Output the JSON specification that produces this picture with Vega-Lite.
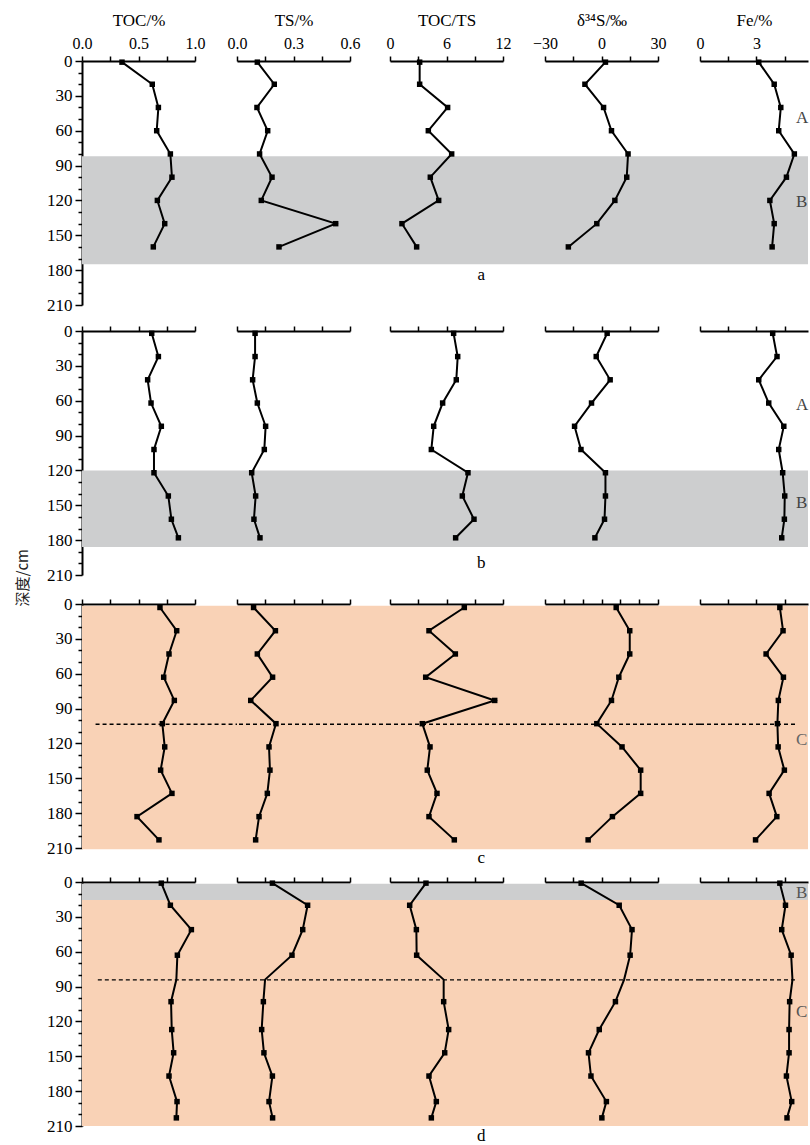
{
"$schema":"https://vega.github.io/schema/vega-lite/v6.json",
"padding":{"left":15,"top":11,"right":0,"bottom":0},
"config":{
 "view":{"stroke":null},
 "axis":{"domainColor":"#000","domainWidth":2,"tickColor":"#000","tickWidth":1.5,"tickSize":5,"labelColor":"#000","labelFont":"Liberation Serif","labelFontSize":16,"labelPadding":5,"labelFlush":false,"labelOverlap":false,"titleFont":"Liberation Serif","titleFontSize":17,"titleFontWeight":"normal","titleColor":"#000","titlePadding":6,"grid":false,"zindex":1},
 "axisY":{"labelFontSize":17,"labelPadding":3,"tickSize":6},
 "text":{"font":"Liberation Serif","fontSize":17,"color":"#000"}
},
"title":{"text":"深度/cm","orient":"left","anchor":"middle","font":"Noto Sans CJK SC","fontSize":15,"fontWeight":"normal","color":"#222","offset":16},
"datasets":{
 "A":[
  {"depth":1,"TOC":0.354,"TS":0.108,"TOCTS":3.15,"d34S":2.1,"Fe":3.12},
  {"depth":20,"TOC":0.622,"TS":0.198,"TOCTS":3.15,"d34S":-8.8,"Fe":3.94},
  {"depth":40,"TOC":0.676,"TS":0.106,"TOCTS":6.12,"d34S":1.1,"Fe":4.29},
  {"depth":60,"TOC":0.661,"TS":0.163,"TOCTS":4.07,"d34S":5.3,"Fe":4.18},
  {"depth":80,"TOC":0.782,"TS":0.120,"TOCTS":6.55,"d34S":14.1,"Fe":5.01},
  {"depth":100,"TOC":0.796,"TS":0.186,"TOCTS":4.28,"d34S":13.4,"Fe":4.59},
  {"depth":120,"TOC":0.667,"TS":0.129,"TOCTS":5.17,"d34S":7.1,"Fe":3.71},
  {"depth":140,"TOC":0.732,"TS":0.524,"TOCTS":1.27,"d34S":-2.5,"Fe":3.94},
  {"depth":160,"TOC":0.631,"TS":0.223,"TOCTS":2.83,"d34S":-17.6,"Fe":3.83}
 ],
 "B":[
  {"depth":2,"TOC":0.617,"TS":0.096,"TOCTS":6.76,"d34S":3.0,"Fe":3.86},
  {"depth":22,"TOC":0.676,"TS":0.096,"TOCTS":7.19,"d34S":-2.8,"Fe":4.09},
  {"depth":42,"TOC":0.581,"TS":0.083,"TOCTS":7.04,"d34S":4.6,"Fe":3.12},
  {"depth":62,"TOC":0.611,"TS":0.108,"TOCTS":5.59,"d34S":-5.3,"Fe":3.65},
  {"depth":82,"TOC":0.702,"TS":0.152,"TOCTS":4.64,"d34S":-14.3,"Fe":4.45},
  {"depth":102,"TOC":0.637,"TS":0.145,"TOCTS":4.39,"d34S":-10.9,"Fe":4.18},
  {"depth":122,"TOC":0.637,"TS":0.078,"TOCTS":8.28,"d34S":2.1,"Fe":4.39},
  {"depth":142,"TOC":0.764,"TS":0.099,"TOCTS":7.68,"d34S":2.1,"Fe":4.50},
  {"depth":162,"TOC":0.791,"TS":0.090,"TOCTS":8.92,"d34S":1.6,"Fe":4.48},
  {"depth":178,"TOC":0.853,"TS":0.122,"TOCTS":6.97,"d34S":-3.5,"Fe":4.34}
 ],
 "C":[
  {"depth":3,"TOC":0.690,"TS":0.088,"TOCTS":7.89,"d34S":7.8,"Fe":4.24},
  {"depth":23,"TOC":0.838,"TS":0.204,"TOCTS":4.14,"d34S":15.0,"Fe":4.41},
  {"depth":43,"TOC":0.770,"TS":0.108,"TOCTS":6.94,"d34S":15.0,"Fe":3.51},
  {"depth":63,"TOC":0.723,"TS":0.189,"TOCTS":3.79,"d34S":9.2,"Fe":4.43},
  {"depth":83,"TOC":0.817,"TS":0.073,"TOCTS":11.12,"d34S":5.3,"Fe":4.16},
  {"depth":103,"TOC":0.711,"TS":0.207,"TOCTS":3.43,"d34S":-2.5,"Fe":4.11},
  {"depth":123,"TOC":0.732,"TS":0.170,"TOCTS":4.25,"d34S":10.9,"Fe":4.15},
  {"depth":143,"TOC":0.696,"TS":0.175,"TOCTS":3.96,"d34S":20.8,"Fe":4.48},
  {"depth":163,"TOC":0.796,"TS":0.161,"TOCTS":4.99,"d34S":20.8,"Fe":3.67},
  {"depth":183,"TOC":0.487,"TS":0.117,"TOCTS":4.14,"d34S":5.8,"Fe":4.08},
  {"depth":203,"TOC":0.681,"TS":0.099,"TOCTS":6.83,"d34S":-7.1,"Fe":2.95}
 ],
 "D":[
  {"depth":1,"TOC":0.702,"TS":0.188,"TOCTS":3.82,"d34S":-10.8,"Fe":4.24},
  {"depth":20,"TOC":0.782,"TS":0.375,"TOCTS":2.09,"d34S":9.4,"Fe":4.54},
  {"depth":41,"TOC":0.968,"TS":0.349,"TOCTS":2.80,"d34S":16.2,"Fe":4.34},
  {"depth":63,"TOC":0.844,"TS":0.292,"TOCTS":2.83,"d34S":15.2,"Fe":4.84},
  {"depth":84,"TOC":0.835,"TS":0.149,"TOCTS":5.70,"d34S":12.0,"Fe":4.91,"m":0},
  {"depth":103,"TOC":0.788,"TS":0.140,"TOCTS":5.70,"d34S":7.4,"Fe":4.76},
  {"depth":127,"TOC":0.794,"TS":0.131,"TOCTS":6.23,"d34S":-1.2,"Fe":4.73},
  {"depth":147,"TOC":0.811,"TS":0.143,"TOCTS":5.81,"d34S":-6.9,"Fe":4.73},
  {"depth":167,"TOC":0.770,"TS":0.188,"TOCTS":4.14,"d34S":-5.6,"Fe":4.59},
  {"depth":189,"TOC":0.841,"TS":0.170,"TOCTS":4.92,"d34S":2.6,"Fe":4.87},
  {"depth":203,"TOC":0.835,"TS":0.189,"TOCTS":4.39,"d34S":0.2,"Fe":4.62}
 ],
 "bA":[{"top":82,"bottom":175,"zone":"B"}],
 "bB":[{"top":120,"bottom":186,"zone":"B"}],
 "bC":[{"top":1.5,"bottom":211,"zone":"C"}],
 "bD":[{"top":1.4,"bottom":15.5,"zone":"B"},{"top":15.5,"bottom":210,"zone":"C"}],
 "zA":[{"zone":"A","depth":49},{"zone":"B","depth":121}],
 "zB":[{"zone":"A","depth":64},{"zone":"B","depth":148}],
 "zC":[{"zone":"C","depth":117}],
 "zD":[{"zone":"B","depth":9.5},{"zone":"C","depth":112}]
},
"spacing":9,
"vconcat":[
 {"hconcat":[
  {"width":155,"height":244,"layer":[
   {"data":{"name":"bA"},"mark":"rect","encoding":{"y":{"field":"top","type":"quantitative","scale":{"domain":[0,210],"reverse":true,"nice":false,"zero":false},"axis":{"title":null,"values":[0,10,20,30,40,50,60,70,80,90,100,110,120,130,140,150,160,170,180,190,200,210],"labelExpr":"datum.value % 30 === 0 ? datum.label : ''","tickSize":{"condition":{"test":"datum.value % 30 === 0","value":7},"value":4}}},"y2":{"field":"bottom"},"color":{"field":"zone","type":"nominal","scale":{"domain":["B","C"],"range":["#cdcecf","#f9d2b6"]},"legend":null}}},
   {"data":{"name":"A"},"encoding":{"x":{"field":"TOC","type":"quantitative","scale":{"domain":[0,1],"range":[0,113],"nice":false,"zero":false},"axis":{"orient":"top","title":"TOC/%","values":[0,0.25,0.5,0.75,1],"format":".1f","labelExpr":"datum.value % 0.5 === 0 ? datum.label : ''"}},"y":{"field":"depth","type":"quantitative","scale":{"domain":[0,210],"reverse":true,"nice":false,"zero":false},"axis":{"title":null,"values":[0,10,20,30,40,50,60,70,80,90,100,110,120,130,140,150,160,170,180,190,200,210],"labelExpr":"datum.value % 30 === 0 ? datum.label : ''","tickSize":{"condition":{"test":"datum.value % 30 === 0","value":7},"value":4}}}},"layer":[
    {"mark":{"type":"line","color":"black","strokeWidth":2},"encoding":{"order":{"field":"depth","type":"quantitative"}}},
    {"transform":[{"filter":"datum.m !== 0"}],"mark":{"type":"square","color":"black","opacity":1,"size":30}}
   ]}
  ]},
  {"width":153,"height":244,"layer":[
   {"data":{"name":"bA"},"mark":"rect","encoding":{"y":{"field":"top","type":"quantitative","scale":{"domain":[0,210],"reverse":true,"nice":false,"zero":false},"axis":null},"y2":{"field":"bottom"},"color":{"field":"zone","type":"nominal","scale":{"domain":["B","C"],"range":["#cdcecf","#f9d2b6"]},"legend":null}}},
   {"data":{"name":"A"},"encoding":{"x":{"field":"TS","type":"quantitative","scale":{"domain":[0,0.6],"range":[0,113],"nice":false,"zero":false},"axis":{"orient":"top","title":"TS/%","values":[0,0.15,0.3,0.45,0.6],"format":".1f","labelExpr":"round(datum.value*100) % 30 === 0 ? datum.label : ''"}},"y":{"field":"depth","type":"quantitative","scale":{"domain":[0,210],"reverse":true,"nice":false,"zero":false},"axis":null}},"layer":[
    {"mark":{"type":"line","color":"black","strokeWidth":2},"encoding":{"order":{"field":"depth","type":"quantitative"}}},
    {"transform":[{"filter":"datum.m !== 0"}],"mark":{"type":"square","color":"black","opacity":1,"size":30}}
   ]}
  ]},
  {"width":155,"height":244,"layer":[
   {"data":{"name":"bA"},"mark":"rect","encoding":{"y":{"field":"top","type":"quantitative","scale":{"domain":[0,210],"reverse":true,"nice":false,"zero":false},"axis":null},"y2":{"field":"bottom"},"color":{"field":"zone","type":"nominal","scale":{"domain":["B","C"],"range":["#cdcecf","#f9d2b6"]},"legend":null}}},
   {"data":{"name":"A"},"encoding":{"x":{"field":"TOCTS","type":"quantitative","scale":{"domain":[0,12],"range":[0,113],"nice":false,"zero":false},"axis":{"orient":"top","title":"TOC/TS","values":[0,3,6,9,12],"format":"d","labelExpr":"datum.value % 6 === 0 ? datum.label : ''"}},"y":{"field":"depth","type":"quantitative","scale":{"domain":[0,210],"reverse":true,"nice":false,"zero":false},"axis":null}},"layer":[
    {"mark":{"type":"line","color":"black","strokeWidth":2},"encoding":{"order":{"field":"depth","type":"quantitative"}}},
    {"transform":[{"filter":"datum.m !== 0"}],"mark":{"type":"square","color":"black","opacity":1,"size":30}}
   ]},
   {"data":{"values":[{}]},"mark":{"type":"text","fontSize":17},"encoding":{"x":{"datum":9.7,"type":"quantitative","axis":{"orient":"top","title":"TOC/TS","values":[0,3,6,9,12],"format":"d","labelExpr":"datum.value % 6 === 0 ? datum.label : ''"}},"y":{"datum":184,"type":"quantitative","axis":null},"text":{"value":"a"}}}
  ]},
  {"width":155,"height":244,"layer":[
   {"data":{"name":"bA"},"mark":"rect","encoding":{"y":{"field":"top","type":"quantitative","scale":{"domain":[0,210],"reverse":true,"nice":false,"zero":false},"axis":null},"y2":{"field":"bottom"},"color":{"field":"zone","type":"nominal","scale":{"domain":["B","C"],"range":["#cdcecf","#f9d2b6"]},"legend":null}}},
   {"data":{"name":"A"},"encoding":{"x":{"field":"d34S","type":"quantitative","scale":{"domain":[-30,30],"range":[0,113],"nice":false,"zero":false},"axis":{"orient":"top","title":"δ³⁴S/‰","values":[-30,-15,0,15,30],"format":"d","labelExpr":"datum.value % 30 === 0 ? datum.label : ''"}},"y":{"field":"depth","type":"quantitative","scale":{"domain":[0,210],"reverse":true,"nice":false,"zero":false},"axis":null}},"layer":[
    {"mark":{"type":"line","color":"black","strokeWidth":2},"encoding":{"order":{"field":"depth","type":"quantitative"}}},
    {"transform":[{"filter":"datum.m !== 0"}],"mark":{"type":"square","color":"black","opacity":1,"size":30}}
   ]}
  ]},
  {"width":108,"height":244,"layer":[
   {"data":{"name":"bA"},"mark":"rect","encoding":{"y":{"field":"top","type":"quantitative","scale":{"domain":[0,210],"reverse":true,"nice":false,"zero":false},"axis":null},"y2":{"field":"bottom"},"color":{"field":"zone","type":"nominal","scale":{"domain":["B","C"],"range":["#cdcecf","#f9d2b6"]},"legend":null}}},
   {"data":{"name":"A"},"encoding":{"x":{"field":"Fe","type":"quantitative","scale":{"domain":[0,5.735],"range":[0,108],"nice":false,"zero":false},"axis":{"orient":"top","title":"Fe/%","values":[0,1.5,3,4.5],"format":"d","labelExpr":"datum.value % 3 === 0 ? datum.label : ''"}},"y":{"field":"depth","type":"quantitative","scale":{"domain":[0,210],"reverse":true,"nice":false,"zero":false},"axis":null}},"layer":[
    {"mark":{"type":"line","color":"black","strokeWidth":2},"encoding":{"order":{"field":"depth","type":"quantitative"}}},
    {"transform":[{"filter":"datum.m !== 0"}],"mark":{"type":"square","color":"black","opacity":1,"size":30}}
   ]},
   {"data":{"name":"zA"},"mark":{"type":"text","align":"left","baseline":"middle","fontSize":17,"color":"#444"},"encoding":{"x":{"datum":5.1,"type":"quantitative","axis":{"orient":"top","title":"Fe/%","values":[0,1.5,3,4.5],"format":"d","labelExpr":"datum.value % 3 === 0 ? datum.label : ''"}},"y":{"field":"depth","type":"quantitative","scale":{"domain":[0,210],"reverse":true,"nice":false,"zero":false},"axis":null},"text":{"field":"zone"}}}
  ]}
 ],"spacing":0,"bounds":"flush"},
 {"spacing":12,"vconcat":[
 {"hconcat":[
  {"width":155,"height":244,"layer":[
   {"data":{"name":"bB"},"mark":"rect","encoding":{"y":{"field":"top","type":"quantitative","scale":{"domain":[0,210],"reverse":true,"nice":false,"zero":false},"axis":{"title":null,"values":[0,10,20,30,40,50,60,70,80,90,100,110,120,130,140,150,160,170,180,190,200,210],"labelExpr":"datum.value % 30 === 0 ? datum.label : ''","tickSize":{"condition":{"test":"datum.value % 30 === 0","value":7},"value":4}}},"y2":{"field":"bottom"},"color":{"field":"zone","type":"nominal","scale":{"domain":["B","C"],"range":["#cdcecf","#f9d2b6"]},"legend":null}}},
   {"data":{"name":"B"},"encoding":{"x":{"field":"TOC","type":"quantitative","scale":{"domain":[0,1],"range":[0,113],"nice":false,"zero":false},"axis":{"orient":"top","title":null,"labels":false,"values":[0,0.25,0.5,0.75,1]}},"y":{"field":"depth","type":"quantitative","scale":{"domain":[0,210],"reverse":true,"nice":false,"zero":false},"axis":{"title":null,"values":[0,10,20,30,40,50,60,70,80,90,100,110,120,130,140,150,160,170,180,190,200,210],"labelExpr":"datum.value % 30 === 0 ? datum.label : ''","tickSize":{"condition":{"test":"datum.value % 30 === 0","value":7},"value":4}}}},"layer":[
    {"mark":{"type":"line","color":"black","strokeWidth":2},"encoding":{"order":{"field":"depth","type":"quantitative"}}},
    {"transform":[{"filter":"datum.m !== 0"}],"mark":{"type":"square","color":"black","opacity":1,"size":30}}
   ]}
  ]},
  {"width":153,"height":244,"layer":[
   {"data":{"name":"bB"},"mark":"rect","encoding":{"y":{"field":"top","type":"quantitative","scale":{"domain":[0,210],"reverse":true,"nice":false,"zero":false},"axis":null},"y2":{"field":"bottom"},"color":{"field":"zone","type":"nominal","scale":{"domain":["B","C"],"range":["#cdcecf","#f9d2b6"]},"legend":null}}},
   {"data":{"name":"B"},"encoding":{"x":{"field":"TS","type":"quantitative","scale":{"domain":[0,0.6],"range":[0,113],"nice":false,"zero":false},"axis":{"orient":"top","title":null,"labels":false,"values":[0,0.15,0.3,0.45,0.6]}},"y":{"field":"depth","type":"quantitative","scale":{"domain":[0,210],"reverse":true,"nice":false,"zero":false},"axis":null}},"layer":[
    {"mark":{"type":"line","color":"black","strokeWidth":2},"encoding":{"order":{"field":"depth","type":"quantitative"}}},
    {"transform":[{"filter":"datum.m !== 0"}],"mark":{"type":"square","color":"black","opacity":1,"size":30}}
   ]}
  ]},
  {"width":155,"height":244,"layer":[
   {"data":{"name":"bB"},"mark":"rect","encoding":{"y":{"field":"top","type":"quantitative","scale":{"domain":[0,210],"reverse":true,"nice":false,"zero":false},"axis":null},"y2":{"field":"bottom"},"color":{"field":"zone","type":"nominal","scale":{"domain":["B","C"],"range":["#cdcecf","#f9d2b6"]},"legend":null}}},
   {"data":{"name":"B"},"encoding":{"x":{"field":"TOCTS","type":"quantitative","scale":{"domain":[0,12],"range":[0,113],"nice":false,"zero":false},"axis":{"orient":"top","title":null,"labels":false,"values":[0,3,6,9,12]}},"y":{"field":"depth","type":"quantitative","scale":{"domain":[0,210],"reverse":true,"nice":false,"zero":false},"axis":null}},"layer":[
    {"mark":{"type":"line","color":"black","strokeWidth":2},"encoding":{"order":{"field":"depth","type":"quantitative"}}},
    {"transform":[{"filter":"datum.m !== 0"}],"mark":{"type":"square","color":"black","opacity":1,"size":30}}
   ]},
   {"data":{"values":[{}]},"mark":{"type":"text","fontSize":17},"encoding":{"x":{"datum":9.7,"type":"quantitative","axis":{"orient":"top","title":null,"labels":false,"values":[0,3,6,9,12]}},"y":{"datum":200,"type":"quantitative","axis":null},"text":{"value":"b"}}}
  ]},
  {"width":155,"height":244,"layer":[
   {"data":{"name":"bB"},"mark":"rect","encoding":{"y":{"field":"top","type":"quantitative","scale":{"domain":[0,210],"reverse":true,"nice":false,"zero":false},"axis":null},"y2":{"field":"bottom"},"color":{"field":"zone","type":"nominal","scale":{"domain":["B","C"],"range":["#cdcecf","#f9d2b6"]},"legend":null}}},
   {"data":{"name":"B"},"encoding":{"x":{"field":"d34S","type":"quantitative","scale":{"domain":[-30,30],"range":[0,113],"nice":false,"zero":false},"axis":{"orient":"top","title":null,"labels":false,"values":[-30,-15,0,15,30]}},"y":{"field":"depth","type":"quantitative","scale":{"domain":[0,210],"reverse":true,"nice":false,"zero":false},"axis":null}},"layer":[
    {"mark":{"type":"line","color":"black","strokeWidth":2},"encoding":{"order":{"field":"depth","type":"quantitative"}}},
    {"transform":[{"filter":"datum.m !== 0"}],"mark":{"type":"square","color":"black","opacity":1,"size":30}}
   ]}
  ]},
  {"width":108,"height":244,"layer":[
   {"data":{"name":"bB"},"mark":"rect","encoding":{"y":{"field":"top","type":"quantitative","scale":{"domain":[0,210],"reverse":true,"nice":false,"zero":false},"axis":null},"y2":{"field":"bottom"},"color":{"field":"zone","type":"nominal","scale":{"domain":["B","C"],"range":["#cdcecf","#f9d2b6"]},"legend":null}}},
   {"data":{"name":"B"},"encoding":{"x":{"field":"Fe","type":"quantitative","scale":{"domain":[0,5.735],"range":[0,108],"nice":false,"zero":false},"axis":{"orient":"top","title":null,"labels":false,"values":[0,1.5,3,4.5]}},"y":{"field":"depth","type":"quantitative","scale":{"domain":[0,210],"reverse":true,"nice":false,"zero":false},"axis":null}},"layer":[
    {"mark":{"type":"line","color":"black","strokeWidth":2},"encoding":{"order":{"field":"depth","type":"quantitative"}}},
    {"transform":[{"filter":"datum.m !== 0"}],"mark":{"type":"square","color":"black","opacity":1,"size":30}}
   ]},
   {"data":{"name":"zB"},"mark":{"type":"text","align":"left","baseline":"middle","fontSize":17,"color":"#444"},"encoding":{"x":{"datum":5.1,"type":"quantitative","axis":{"orient":"top","title":null,"labels":false,"values":[0,1.5,3,4.5]}},"y":{"field":"depth","type":"quantitative","scale":{"domain":[0,210],"reverse":true,"nice":false,"zero":false},"axis":null},"text":{"field":"zone"}}}
  ]}
 ],"spacing":0,"bounds":"flush"},
 {"spacing":6,"vconcat":[
 {"hconcat":[
  {"width":155,"height":244,"layer":[
   {"data":{"name":"bC"},"mark":"rect","encoding":{"y":{"field":"top","type":"quantitative","scale":{"domain":[0,210],"reverse":true,"nice":false,"zero":false},"axis":{"title":null,"values":[0,10,20,30,40,50,60,70,80,90,100,110,120,130,140,150,160,170,180,190,200,210],"labelExpr":"datum.value % 30 === 0 ? datum.label : ''","tickSize":{"condition":{"test":"datum.value % 30 === 0","value":7},"value":4}}},"y2":{"field":"bottom"},"color":{"field":"zone","type":"nominal","scale":{"domain":["B","C"],"range":["#cdcecf","#f9d2b6"]},"legend":null}}},
   {"data":{"values":[{}]},"mark":{"type":"rule","color":"black","strokeWidth":1.3,"strokeDash":[4,3]},"encoding":{"y":{"datum":103.5,"type":"quantitative","axis":{"title":null,"values":[0,10,20,30,40,50,60,70,80,90,100,110,120,130,140,150,160,170,180,190,200,210],"labelExpr":"datum.value % 30 === 0 ? datum.label : ''","tickSize":{"condition":{"test":"datum.value % 30 === 0","value":7},"value":4}}},"x":{"datum":0.12,"type":"quantitative","axis":{"orient":"top","title":null,"labels":false,"values":[0,0.25,0.5,0.75,1]}},"x2":{"datum":1.372}}},
   {"data":{"name":"C"},"encoding":{"x":{"field":"TOC","type":"quantitative","scale":{"domain":[0,1],"range":[0,113],"nice":false,"zero":false},"axis":{"orient":"top","title":null,"labels":false,"values":[0,0.25,0.5,0.75,1]}},"y":{"field":"depth","type":"quantitative","scale":{"domain":[0,210],"reverse":true,"nice":false,"zero":false},"axis":{"title":null,"values":[0,10,20,30,40,50,60,70,80,90,100,110,120,130,140,150,160,170,180,190,200,210],"labelExpr":"datum.value % 30 === 0 ? datum.label : ''","tickSize":{"condition":{"test":"datum.value % 30 === 0","value":7},"value":4}}}},"layer":[
    {"mark":{"type":"line","color":"black","strokeWidth":2},"encoding":{"order":{"field":"depth","type":"quantitative"}}},
    {"transform":[{"filter":"datum.m !== 0"}],"mark":{"type":"square","color":"black","opacity":1,"size":30}}
   ]}
  ]},
  {"width":153,"height":244,"layer":[
   {"data":{"name":"bC"},"mark":"rect","encoding":{"y":{"field":"top","type":"quantitative","scale":{"domain":[0,210],"reverse":true,"nice":false,"zero":false},"axis":null},"y2":{"field":"bottom"},"color":{"field":"zone","type":"nominal","scale":{"domain":["B","C"],"range":["#cdcecf","#f9d2b6"]},"legend":null}}},
   {"data":{"values":[{}]},"mark":{"type":"rule","color":"black","strokeWidth":1.3,"strokeDash":[4,3]},"encoding":{"y":{"datum":103.5,"type":"quantitative","axis":null}}},
   {"data":{"name":"C"},"encoding":{"x":{"field":"TS","type":"quantitative","scale":{"domain":[0,0.6],"range":[0,113],"nice":false,"zero":false},"axis":{"orient":"top","title":null,"labels":false,"values":[0,0.15,0.3,0.45,0.6]}},"y":{"field":"depth","type":"quantitative","scale":{"domain":[0,210],"reverse":true,"nice":false,"zero":false},"axis":null}},"layer":[
    {"mark":{"type":"line","color":"black","strokeWidth":2},"encoding":{"order":{"field":"depth","type":"quantitative"}}},
    {"transform":[{"filter":"datum.m !== 0"}],"mark":{"type":"square","color":"black","opacity":1,"size":30}}
   ]}
  ]},
  {"width":155,"height":244,"layer":[
   {"data":{"name":"bC"},"mark":"rect","encoding":{"y":{"field":"top","type":"quantitative","scale":{"domain":[0,210],"reverse":true,"nice":false,"zero":false},"axis":null},"y2":{"field":"bottom"},"color":{"field":"zone","type":"nominal","scale":{"domain":["B","C"],"range":["#cdcecf","#f9d2b6"]},"legend":null}}},
   {"data":{"values":[{}]},"mark":{"type":"rule","color":"black","strokeWidth":1.3,"strokeDash":[4,3]},"encoding":{"y":{"datum":103.5,"type":"quantitative","axis":null}}},
   {"data":{"name":"C"},"encoding":{"x":{"field":"TOCTS","type":"quantitative","scale":{"domain":[0,12],"range":[0,113],"nice":false,"zero":false},"axis":{"orient":"top","title":null,"labels":false,"values":[0,3,6,9,12]}},"y":{"field":"depth","type":"quantitative","scale":{"domain":[0,210],"reverse":true,"nice":false,"zero":false},"axis":null}},"layer":[
    {"mark":{"type":"line","color":"black","strokeWidth":2},"encoding":{"order":{"field":"depth","type":"quantitative"}}},
    {"transform":[{"filter":"datum.m !== 0"}],"mark":{"type":"square","color":"black","opacity":1,"size":30}}
   ]},
   {"data":{"values":[{}]},"mark":{"type":"text","fontSize":17},"encoding":{"x":{"datum":9.7,"type":"quantitative","axis":{"orient":"top","title":null,"labels":false,"values":[0,3,6,9,12]}},"y":{"datum":219,"type":"quantitative","axis":null},"text":{"value":"c"}}}
  ]},
  {"width":155,"height":244,"layer":[
   {"data":{"name":"bC"},"mark":"rect","encoding":{"y":{"field":"top","type":"quantitative","scale":{"domain":[0,210],"reverse":true,"nice":false,"zero":false},"axis":null},"y2":{"field":"bottom"},"color":{"field":"zone","type":"nominal","scale":{"domain":["B","C"],"range":["#cdcecf","#f9d2b6"]},"legend":null}}},
   {"data":{"values":[{}]},"mark":{"type":"rule","color":"black","strokeWidth":1.3,"strokeDash":[4,3]},"encoding":{"y":{"datum":103.5,"type":"quantitative","axis":null}}},
   {"data":{"name":"C"},"encoding":{"x":{"field":"d34S","type":"quantitative","scale":{"domain":[-30,30],"range":[0,113],"nice":false,"zero":false},"axis":{"orient":"top","title":null,"labels":false,"values":[-30,-20,-10,0,10,20,30]}},"y":{"field":"depth","type":"quantitative","scale":{"domain":[0,210],"reverse":true,"nice":false,"zero":false},"axis":null}},"layer":[
    {"mark":{"type":"line","color":"black","strokeWidth":2},"encoding":{"order":{"field":"depth","type":"quantitative"}}},
    {"transform":[{"filter":"datum.m !== 0"}],"mark":{"type":"square","color":"black","opacity":1,"size":30}}
   ]}
  ]},
  {"width":108,"height":244,"layer":[
   {"data":{"name":"bC"},"mark":"rect","encoding":{"y":{"field":"top","type":"quantitative","scale":{"domain":[0,210],"reverse":true,"nice":false,"zero":false},"axis":null},"y2":{"field":"bottom"},"color":{"field":"zone","type":"nominal","scale":{"domain":["B","C"],"range":["#cdcecf","#f9d2b6"]},"legend":null}}},
   {"data":{"values":[{}]},"mark":{"type":"rule","color":"black","strokeWidth":1.3,"strokeDash":[4,3]},"encoding":{"y":{"datum":103.5,"type":"quantitative","axis":null},"x":{"datum":0,"type":"quantitative","axis":{"orient":"top","title":null,"labels":false,"values":[0,1.5,3,4.5]}},"x2":{"datum":5.1}}},
   {"data":{"name":"C"},"encoding":{"x":{"field":"Fe","type":"quantitative","scale":{"domain":[0,5.735],"range":[0,108],"nice":false,"zero":false},"axis":{"orient":"top","title":null,"labels":false,"values":[0,1.5,3,4.5]}},"y":{"field":"depth","type":"quantitative","scale":{"domain":[0,210],"reverse":true,"nice":false,"zero":false},"axis":null}},"layer":[
    {"mark":{"type":"line","color":"black","strokeWidth":2},"encoding":{"order":{"field":"depth","type":"quantitative"}}},
    {"transform":[{"filter":"datum.m !== 0"}],"mark":{"type":"square","color":"black","opacity":1,"size":30}}
   ]},
   {"data":{"name":"zC"},"mark":{"type":"text","align":"left","baseline":"middle","fontSize":17,"color":"#666"},"encoding":{"x":{"datum":5.1,"type":"quantitative","axis":{"orient":"top","title":null,"labels":false,"values":[0,1.5,3,4.5]}},"y":{"field":"depth","type":"quantitative","scale":{"domain":[0,210],"reverse":true,"nice":false,"zero":false},"axis":null},"text":{"field":"zone"}}}
  ]}
 ],"spacing":0,"bounds":"flush"},
 {"hconcat":[
  {"width":155,"height":244,"layer":[
   {"data":{"name":"bD"},"mark":"rect","encoding":{"y":{"field":"top","type":"quantitative","scale":{"domain":[0,210],"reverse":true,"nice":false,"zero":false},"axis":{"title":null,"values":[0,10,20,30,40,50,60,70,80,90,100,110,120,130,140,150,160,170,180,190,200,210],"labelExpr":"datum.value % 30 === 0 ? datum.label : ''","tickSize":{"condition":{"test":"datum.value % 30 === 0","value":7},"value":4}}},"y2":{"field":"bottom"},"color":{"field":"zone","type":"nominal","scale":{"domain":["B","C"],"range":["#cdcecf","#f9d2b6"]},"legend":null}}},
   {"data":{"values":[{}]},"mark":{"type":"rule","color":"black","strokeWidth":1.3,"strokeDash":[4,3]},"encoding":{"y":{"datum":84.3,"type":"quantitative","axis":{"title":null,"values":[0,10,20,30,40,50,60,70,80,90,100,110,120,130,140,150,160,170,180,190,200,210],"labelExpr":"datum.value % 30 === 0 ? datum.label : ''","tickSize":{"condition":{"test":"datum.value % 30 === 0","value":7},"value":4}}},"x":{"datum":0.14,"type":"quantitative","axis":{"orient":"top","title":null,"labels":false,"values":[0,0.25,0.5,0.75,1]}},"x2":{"datum":1.372}}},
   {"data":{"name":"D"},"encoding":{"x":{"field":"TOC","type":"quantitative","scale":{"domain":[0,1],"range":[0,113],"nice":false,"zero":false},"axis":{"orient":"top","title":null,"labels":false,"values":[0,0.25,0.5,0.75,1]}},"y":{"field":"depth","type":"quantitative","scale":{"domain":[0,210],"reverse":true,"nice":false,"zero":false},"axis":{"title":null,"values":[0,10,20,30,40,50,60,70,80,90,100,110,120,130,140,150,160,170,180,190,200,210],"labelExpr":"datum.value % 30 === 0 ? datum.label : ''","tickSize":{"condition":{"test":"datum.value % 30 === 0","value":7},"value":4}}}},"layer":[
    {"mark":{"type":"line","color":"black","strokeWidth":2},"encoding":{"order":{"field":"depth","type":"quantitative"}}},
    {"transform":[{"filter":"datum.m !== 0"}],"mark":{"type":"square","color":"black","opacity":1,"size":30}}
   ]}
  ]},
  {"width":153,"height":244,"layer":[
   {"data":{"name":"bD"},"mark":"rect","encoding":{"y":{"field":"top","type":"quantitative","scale":{"domain":[0,210],"reverse":true,"nice":false,"zero":false},"axis":null},"y2":{"field":"bottom"},"color":{"field":"zone","type":"nominal","scale":{"domain":["B","C"],"range":["#cdcecf","#f9d2b6"]},"legend":null}}},
   {"data":{"values":[{}]},"mark":{"type":"rule","color":"black","strokeWidth":1.3,"strokeDash":[4,3]},"encoding":{"y":{"datum":84.3,"type":"quantitative","axis":null}}},
   {"data":{"name":"D"},"encoding":{"x":{"field":"TS","type":"quantitative","scale":{"domain":[0,0.6],"range":[0,113],"nice":false,"zero":false},"axis":{"orient":"top","title":null,"labels":false,"values":[0,0.15,0.3,0.45,0.6]}},"y":{"field":"depth","type":"quantitative","scale":{"domain":[0,210],"reverse":true,"nice":false,"zero":false},"axis":null}},"layer":[
    {"mark":{"type":"line","color":"black","strokeWidth":2},"encoding":{"order":{"field":"depth","type":"quantitative"}}},
    {"transform":[{"filter":"datum.m !== 0"}],"mark":{"type":"square","color":"black","opacity":1,"size":30}}
   ]}
  ]},
  {"width":155,"height":244,"layer":[
   {"data":{"name":"bD"},"mark":"rect","encoding":{"y":{"field":"top","type":"quantitative","scale":{"domain":[0,210],"reverse":true,"nice":false,"zero":false},"axis":null},"y2":{"field":"bottom"},"color":{"field":"zone","type":"nominal","scale":{"domain":["B","C"],"range":["#cdcecf","#f9d2b6"]},"legend":null}}},
   {"data":{"values":[{}]},"mark":{"type":"rule","color":"black","strokeWidth":1.3,"strokeDash":[4,3]},"encoding":{"y":{"datum":84.3,"type":"quantitative","axis":null}}},
   {"data":{"name":"D"},"encoding":{"x":{"field":"TOCTS","type":"quantitative","scale":{"domain":[0,12],"range":[0,113],"nice":false,"zero":false},"axis":{"orient":"top","title":null,"labels":false,"values":[0,3,6,9,12]}},"y":{"field":"depth","type":"quantitative","scale":{"domain":[0,210],"reverse":true,"nice":false,"zero":false},"axis":null}},"layer":[
    {"mark":{"type":"line","color":"black","strokeWidth":2},"encoding":{"order":{"field":"depth","type":"quantitative"}}},
    {"transform":[{"filter":"datum.m !== 0"}],"mark":{"type":"square","color":"black","opacity":1,"size":30}}
   ]},
   {"data":{"values":[{}]},"mark":{"type":"text","fontSize":17},"encoding":{"x":{"datum":9.7,"type":"quantitative","axis":{"orient":"top","title":null,"labels":false,"values":[0,3,6,9,12]}},"y":{"datum":219,"type":"quantitative","axis":null},"text":{"value":"d"}}}
  ]},
  {"width":155,"height":244,"layer":[
   {"data":{"name":"bD"},"mark":"rect","encoding":{"y":{"field":"top","type":"quantitative","scale":{"domain":[0,210],"reverse":true,"nice":false,"zero":false},"axis":null},"y2":{"field":"bottom"},"color":{"field":"zone","type":"nominal","scale":{"domain":["B","C"],"range":["#cdcecf","#f9d2b6"]},"legend":null}}},
   {"data":{"values":[{}]},"mark":{"type":"rule","color":"black","strokeWidth":1.3,"strokeDash":[4,3]},"encoding":{"y":{"datum":84.3,"type":"quantitative","axis":null}}},
   {"data":{"name":"D"},"encoding":{"x":{"field":"d34S","type":"quantitative","scale":{"domain":[-30,30],"range":[0,113],"nice":false,"zero":false},"axis":{"orient":"top","title":null,"labels":false,"values":[-30,-15,0,15,30]}},"y":{"field":"depth","type":"quantitative","scale":{"domain":[0,210],"reverse":true,"nice":false,"zero":false},"axis":null}},"layer":[
    {"mark":{"type":"line","color":"black","strokeWidth":2},"encoding":{"order":{"field":"depth","type":"quantitative"}}},
    {"transform":[{"filter":"datum.m !== 0"}],"mark":{"type":"square","color":"black","opacity":1,"size":30}}
   ]}
  ]},
  {"width":108,"height":244,"layer":[
   {"data":{"name":"bD"},"mark":"rect","encoding":{"y":{"field":"top","type":"quantitative","scale":{"domain":[0,210],"reverse":true,"nice":false,"zero":false},"axis":null},"y2":{"field":"bottom"},"color":{"field":"zone","type":"nominal","scale":{"domain":["B","C"],"range":["#cdcecf","#f9d2b6"]},"legend":null}}},
   {"data":{"values":[{}]},"mark":{"type":"rule","color":"black","strokeWidth":1.3,"strokeDash":[4,3]},"encoding":{"y":{"datum":84.3,"type":"quantitative","axis":null},"x":{"datum":0,"type":"quantitative","axis":{"orient":"top","title":null,"labels":false,"values":[0,1.5,3,4.5]}},"x2":{"datum":5.2}}},
   {"data":{"name":"D"},"encoding":{"x":{"field":"Fe","type":"quantitative","scale":{"domain":[0,5.735],"range":[0,108],"nice":false,"zero":false},"axis":{"orient":"top","title":null,"labels":false,"values":[0,1.5,3,4.5]}},"y":{"field":"depth","type":"quantitative","scale":{"domain":[0,210],"reverse":true,"nice":false,"zero":false},"axis":null}},"layer":[
    {"mark":{"type":"line","color":"black","strokeWidth":2},"encoding":{"order":{"field":"depth","type":"quantitative"}}},
    {"transform":[{"filter":"datum.m !== 0"}],"mark":{"type":"square","color":"black","opacity":1,"size":30}}
   ]},
   {"data":{"name":"zD"},"mark":{"type":"text","align":"left","baseline":"middle","fontSize":17,"color":"#555"},"encoding":{"x":{"datum":5.1,"type":"quantitative","axis":{"orient":"top","title":null,"labels":false,"values":[0,1.5,3,4.5]}},"y":{"field":"depth","type":"quantitative","scale":{"domain":[0,210],"reverse":true,"nice":false,"zero":false},"axis":null},"text":{"field":"zone"}}}
  ]}
 ],"spacing":0,"bounds":"flush"}
 ]}
 ]}
]
}
